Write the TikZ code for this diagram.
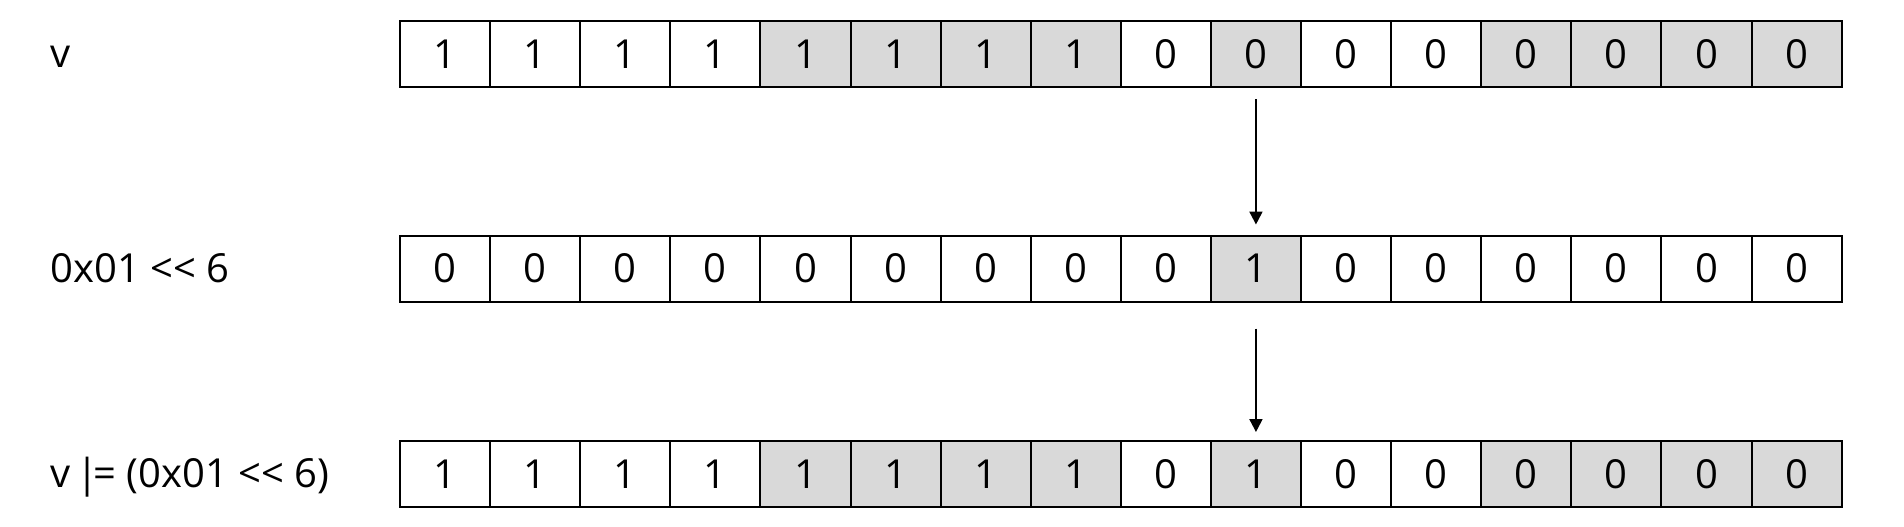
\documentclass[tikz,border=0pt]{standalone}
\usepackage{fontspec}
\setmainfont{Open Sans}
\usetikzlibrary{arrows.meta}
\definecolor{bitgray}{HTML}{D9D9D9}

\begin{document}
\begin{tikzpicture}[x=0.5pt,y=-0.5pt,>={Triangle[length=6.5pt,width=6.5pt]},
  bit/.style={draw,line width=1pt,minimum width=45.05pt,minimum height=33pt,inner sep=0pt,font=\fontsize{20}{24}\selectfont},
  on/.style={bit,fill=bitgray},
  rowlabel/.style={anchor=base west,inner sep=0pt,font=\fontsize{20}{24}\selectfont}]
\useasboundingbox (0,0) rectangle (1904,526);

%zeilen beschriftung
\node [rowlabel] (lv) at (50,67.5) {v};
\node [rowlabel] (lm) at (50,282) {0x01 <{}< 6};
\node [rowlabel] (lr) at (50,487.5) {v\kern3pt|\kern-2.5pt= (0x01 <{}< 6)};

%v
\foreach \v/\s [count=\i from 0] in {1/bit,1/bit,1/bit,1/bit,1/on,1/on,1/on,1/on,0/bit,0/on,0/bit,0/bit,0/on,0/on,0/on,0/on}
{
\node [\s] (v\i) at (445.05+90.1*\i,54) {\v};
}

%maske
\foreach \v/\s [count=\i from 0] in {0/bit,0/bit,0/bit,0/bit,0/bit,0/bit,0/bit,0/bit,0/bit,1/on,0/bit,0/bit,0/bit,0/bit,0/bit,0/bit}
{
\node [\s] (m\i) at (445.05+90.1*\i,268.5) {\v};
}

%ergebnis
\foreach \v/\s [count=\i from 0] in {1/bit,1/bit,1/bit,1/bit,1/on,1/on,1/on,1/on,0/bit,1/on,0/bit,0/bit,0/on,0/on,0/on,0/on}
{
\node [\s] (r\i) at (445.05+90.1*\i,474) {\v};
}

%pfeile
\draw [->,line width=1pt,shorten <=5.5pt,shorten >=5pt] (v9) -- (m9);
\draw [->,line width=1pt,shorten <=13pt,shorten >=4pt] (m9) -- (r9);
\end{tikzpicture}
\end{document}
